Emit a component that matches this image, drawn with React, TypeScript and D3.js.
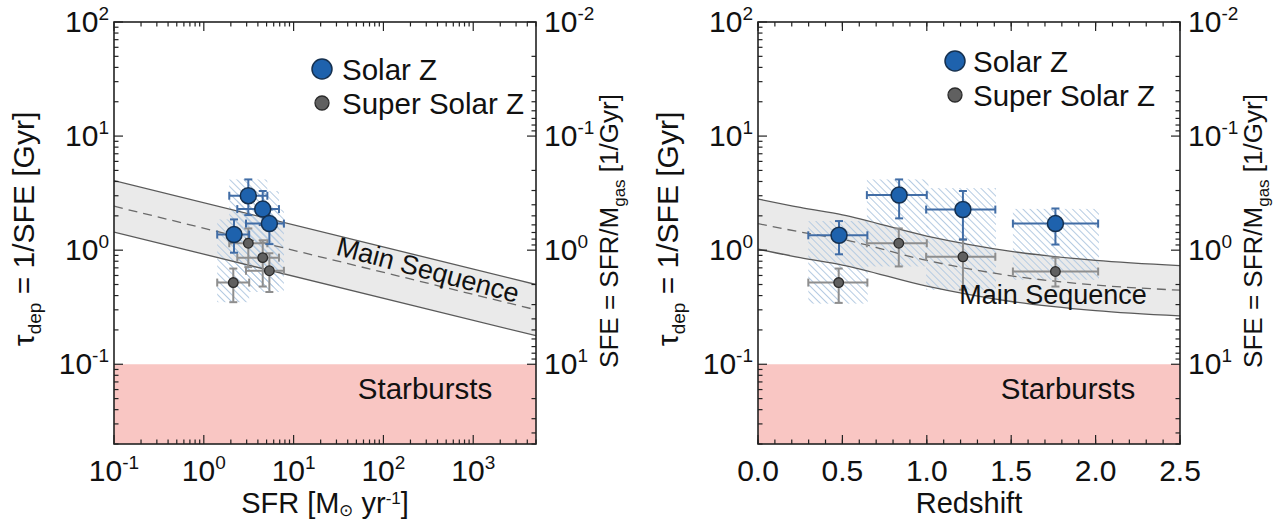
import React from 'react';
import * as d3 from 'd3';

// ---------------- DATA ----------------
// Left panel: depletion time vs SFR
const sfrSolar = [3.13, 4.53, 5.37, 2.17];
const sfrSolarLo = [1.92, 2.36, 2.95, 1.41];
const sfrSolarHi = [5.1, 6.87, 7.8, 3.2];
const tauSolarSfr = [3.0, 2.29, 1.71, 1.37];
const tauSolarSfrLo = [2.03, 1.66, 1.13, 0.95];
const tauSolarSfrHi = [4.17, 3.3, 2.27, 1.86];

const sfrSuper = [3.13, 4.53, 5.37, 2.13];
const sfrSuperLo = [1.92, 2.36, 2.95, 1.41];
const sfrSuperHi = [5.1, 6.87, 7.8, 3.2];
const tauSuperSfr = [1.15, 0.86, 0.66, 0.52];
const tauSuperSfrLo = [0.71, 0.48, 0.43, 0.35];
const tauSuperSfrHi = [1.55, 1.22, 0.94, 0.69];

const boxSfrLo = [1.92, 2.36, 2.95, 1.41];
const boxSfrHi = [5.1, 6.87, 7.8, 3.2];
const boxSfrTauLo = [0.71, 0.48, 0.43, 0.35];
const boxSfrTauHi = [4.17, 3.3, 2.27, 1.86];

// Main sequence band (left)
const msSfr = [0.1, 5000];
const msSfrUpper = [4.07, 0.5];
const msSfrMid = [2.43, 0.3];
const msSfrLower = [1.44, 0.178];

// Right panel: depletion time vs redshift
const zSolar = [0.48, 0.836, 1.214, 1.762];
const zSolarLo = [0.298, 0.645, 0.996, 1.51];
const zSolarHi = [0.648, 1.0, 1.406, 2.015];
const tauSolarZ = [1.35, 3.04, 2.27, 1.71];
const tauSolarZLo = [0.92, 1.9, 1.24, 1.12];
const tauSolarZHi = [1.8, 4.17, 3.3, 2.32];

const zSuper = [0.478, 0.834, 1.214, 1.762];
const zSuperLo = [0.298, 0.645, 0.996, 1.51];
const zSuperHi = [0.648, 1.0, 1.406, 2.015];
const tauSuperZ = [0.52, 1.15, 0.875, 0.65];
const tauSuperZLo = [0.345, 0.72, 0.45, 0.48];
const tauSuperZHi = [0.69, 1.55, 1.24, 0.86];

const boxZLo = [0.298, 0.645, 0.996, 1.51];
const boxZHi = [0.65, 1.01, 1.41, 2.02];
const boxZTauLo = [0.34, 0.72, 0.45, 0.55];
const boxZTauHi = [1.8, 4.17, 3.5, 2.3];

// Main sequence band (right)
const msZ = [0, 0.25, 0.5, 1.0, 1.5, 2.0, 2.5];
const msZUpper = [2.81, 2.37, 2.04, 1.33, 0.977, 0.813, 0.731];
const msZMid = [1.71, 1.445, 1.245, 0.813, 0.596, 0.495, 0.446];
const msZLower = [1.02, 0.86, 0.741, 0.484, 0.355, 0.295, 0.265];

const sfrTickExps = [-1, 0, 1, 2, 3];
const zTickLabels = ['0.0', '0.5', '1.0', '1.5', '2.0', '2.5'];
const tauTickExps = [-1, 0, 1, 2];
const sfeTickExps = [-2, -1, 0, 1];
const starburstTau = 0.1;

// ---------------- LAYOUT ----------------
const W = 1277;
const H = 519;
const TOP = 22;
const BOTTOM = 444;
const PW = 422;
const LX = 114;
const RX = 758;
const FONT = "'Liberation Sans', Arial, Helvetica, sans-serif";
const FS_TICK = 30;
const SUP_TICK = 19;
const FS_TITLE = 30;
const FS_RTITLE = 26;
const FS_XTITLE = 29;
const FS_LEG = 29.5;
const FS_MS = 27;
const FS_SB = 29.5;

const yScale = d3.scaleLog().domain([0.02, 100]).range([BOTTOM, TOP]);
const sfeScale = d3.scaleLog().domain([50, 0.01]).range([BOTTOM, TOP]);

const BLUE = '#1E62AD';
const BLUE_EDGE = '#15304F';
const BLUE_BAR = '#416DA6';
const GRAY = '#606060';
const GRAY_EDGE = '#2B2B2B';
const GRAY_BAR = '#8E8E8E';

function Sup({ base, exp, ...rest }: any) {
  return (
    <text {...rest}>
      {base}
      <tspan fontSize={SUP_TICK} dy={-12}>{exp}</tspan>
    </text>
  );
}

function ErrorBars({ xs, xLo, xHi, ys, yLo, yHi, xScale, color }: any) {
  const cap = 4;
  return (
    <g stroke={color} strokeWidth={2} fill="none">
      {xs.map((_: number, i: number) => {
        const cx = xScale(xs[i]);
        const cy = yScale(ys[i]);
        const x1 = xScale(xLo[i]);
        const x2 = xScale(xHi[i]);
        const y1 = yScale(yLo[i]);
        const y2 = yScale(yHi[i]);
        return (
          <g key={i}>
            <line x1={x1} x2={x2} y1={cy} y2={cy} />
            <line x1={x1} x2={x1} y1={cy - cap} y2={cy + cap} />
            <line x1={x2} x2={x2} y1={cy - cap} y2={cy + cap} />
            <line x1={cx} x2={cx} y1={y1} y2={y2} />
            <line x1={cx - cap} x2={cx + cap} y1={y1} y2={y1} />
            <line x1={cx - cap} x2={cx + cap} y1={y2} y2={y2} />
          </g>
        );
      })}
    </g>
  );
}

function Panel(props: any) {
  const {
    x0, xScale, xTicksMajor, xTicksMinor, xLabels, xTitle,
    solar, superS, boxes, ms, legend, msLabel, sbX, idp,
  } = props;
  const x1 = x0 + PW;
  const yTicks = yScale.ticks();
  const sfeTicks = sfeScale.ticks();
  const isMajor = (v: number) => Math.abs(Math.log10(v) - Math.round(Math.log10(v))) < 1e-6;

  const line = d3.line<[number, number]>().x(d => xScale(d[0])).y(d => yScale(d[1])).curve(d3.curveMonotoneX);
  const upperPts = ms.x.map((v: number, i: number) => [v, ms.upper[i]]);
  const lowerPts = ms.x.map((v: number, i: number) => [v, ms.lower[i]]);
  const midPts = ms.x.map((v: number, i: number) => [v, ms.mid[i]]);
  const area = d3.area<[number, number]>()
    .x(d => xScale(d[0]))
    .y0((d, i) => yScale(lowerPts[i][1]))
    .y1(d => yScale(d[1]))
    .curve(d3.curveMonotoneX);

  return (
    <g>
      <defs>
        <clipPath id={`clip${idp}`}>
          <rect x={x0} y={TOP} width={PW} height={BOTTOM - TOP} />
        </clipPath>
      </defs>
      <g clipPath={`url(#clip${idp})`}>
        <rect x={x0} y={yScale(starburstTau)} width={PW} height={BOTTOM - yScale(starburstTau)} fill="#F9C6C3" />
        <path d={area(upperPts) || ''} fill="#EAEAEA" />
        {boxes.lo.map((_: number, i: number) => (
          <rect key={i}
            x={xScale(boxes.lo[i])} width={xScale(boxes.hi[i]) - xScale(boxes.lo[i])}
            y={yScale(boxes.tHi[i])} height={yScale(boxes.tLo[i]) - yScale(boxes.tHi[i])}
            fill="url(#hatch)" />
        ))}
        <path d={line(upperPts) || ''} fill="none" stroke="#5A5A5A" strokeWidth={1.3} />
        <path d={line(lowerPts) || ''} fill="none" stroke="#5A5A5A" strokeWidth={1.3} />
        <path d={line(midPts) || ''} fill="none" stroke="#6A6A6A" strokeWidth={1.3} strokeDasharray="9,6" />
      </g>

      <ErrorBars xs={superS.x} xLo={superS.xLo} xHi={superS.xHi} ys={superS.t} yLo={superS.tLo} yHi={superS.tHi} xScale={xScale} color={GRAY_BAR} />
      <ErrorBars xs={solar.x} xLo={solar.xLo} xHi={solar.xHi} ys={solar.t} yLo={solar.tLo} yHi={solar.tHi} xScale={xScale} color={BLUE_BAR} />
      {superS.x.map((v: number, i: number) => (
        <circle key={i} cx={xScale(v)} cy={yScale(superS.t[i])} r={4.8} fill={GRAY} stroke={GRAY_EDGE} strokeWidth={1.3} />
      ))}
      {solar.x.map((v: number, i: number) => (
        <circle key={i} cx={xScale(v)} cy={yScale(solar.t[i])} r={8} fill={BLUE} stroke={BLUE_EDGE} strokeWidth={1.5} />
      ))}

      {/* frame */}
      <rect x={x0} y={TOP} width={PW} height={BOTTOM - TOP} fill="none" stroke="#222" strokeWidth={1.6} />

      {yTicks.map((v, i) => {
        const y = yScale(v);
        const len = isMajor(v) ? 9 : 4.5;
        return <line key={`l${i}`} x1={x0} x2={x0 + len} y1={y} y2={y} stroke="#222" strokeWidth={1.2} />;
      })}
      {sfeTicks.map((v, i) => {
        const y = sfeScale(v);
        const len = isMajor(v) ? 9 : 4.5;
        return <line key={`r${i}`} x1={x1} x2={x1 - len} y1={y} y2={y} stroke="#222" strokeWidth={1.2} />;
      })}
      {xTicksMinor.map((v: number, i: number) => {
        const x = xScale(v);
        return (
          <g key={`xm${i}`} stroke="#222" strokeWidth={1.2}>
            <line x1={x} x2={x} y1={BOTTOM} y2={BOTTOM - 4.5} />
            <line x1={x} x2={x} y1={TOP} y2={TOP + 4.5} />
          </g>
        );
      })}
      {xTicksMajor.map((v: number, i: number) => {
        const x = xScale(v);
        return (
          <g key={`xM${i}`} stroke="#222" strokeWidth={1.2}>
            <line x1={x} x2={x} y1={BOTTOM} y2={BOTTOM - 9} />
            <line x1={x} x2={x} y1={TOP} y2={TOP + 9} />
          </g>
        );
      })}

      <g fontFamily={FONT} fontSize={FS_TICK} fill="#111">
        {tauTickExps.map(e => (
          <Sup key={`tl${e}`} base="10" exp={`${e}`} x={x0 - 5} y={yScale(Math.pow(10, e)) + 10} textAnchor="end" />
        ))}
        {sfeTickExps.map(e => (
          <Sup key={`sl${e}`} base="10" exp={`${e}`} x={x1 + 8} y={sfeScale(Math.pow(10, e)) + 10} textAnchor="start" />
        ))}
        {xLabels.map((lab: any, i: number) => (
          lab.exp !== undefined
            ? <Sup key={`xl${i}`} base="10" exp={lab.exp} x={xScale(lab.v)} y={481} textAnchor="middle" />
            : <text key={`xl${i}`} x={xScale(lab.v)} y={481} textAnchor="middle">{lab.text}</text>
        ))}
      </g>

      <g fontFamily={FONT} fill="#111">
        {xTitle}
        <text fontSize={FS_TITLE} transform={`translate(${x0 - 80},${229}) rotate(-90)`} textAnchor="middle">
          τ<tspan fontSize={SUP_TICK} dy={7}>dep</tspan><tspan dy={-7}> = 1/SFE [Gyr]</tspan>
        </text>
        <text fontSize={FS_RTITLE} transform={`translate(${x1 + 82},${231}) rotate(-90)`} textAnchor="middle">
          SFE = SFR/M<tspan fontSize={17} dy={7}>gas</tspan><tspan dy={-7}> [1/Gyr]</tspan>
        </text>
      </g>

      <g fontFamily={FONT} fontSize={FS_LEG} fill="#111">
        <circle cx={legend.x} cy={legend.y} r={10} fill={BLUE} stroke={BLUE_EDGE} strokeWidth={1.5} />
        <text x={legend.x + legend.gap} y={legend.y + 10.5}>Solar Z</text>
        <circle cx={legend.x} cy={legend.y + 34} r={7} fill={GRAY} stroke={GRAY_EDGE} strokeWidth={1.3} />
        <text x={legend.x + legend.gap} y={legend.y + 44.5}>Super Solar Z</text>
      </g>

      <text fontFamily={FONT} fontSize={FS_MS} fill="#111" textAnchor="middle"
        transform={`translate(${msLabel.x},${msLabel.y}) rotate(${msLabel.rot})`} dy={9}>Main Sequence</text>
      <text fontFamily={FONT} fontSize={FS_SB} fill="#111" textAnchor="middle" x={sbX} y={399}>Starbursts</text>
    </g>
  );
}

export default function App() {
  const xSfr = d3.scaleLog().domain([0.1, 5000]).range([LX, LX + PW]);
  const xZ = d3.scaleLinear().domain([0, 2.5]).range([RX, RX + PW]);
  const sfrAll = xSfr.ticks();
  const isMaj = (v: number) => Math.abs(Math.log10(v) - Math.round(Math.log10(v))) < 1e-6;
  const zMinor = d3.range(0, 26).map(i => i / 10);
  const zMajor = d3.range(0, 6).map(i => i / 2);

  return (
    <svg width={W} height={H} viewBox={`0 0 ${W} ${H}`} style={{ display: 'block', position: 'absolute', left: 0, top: 0, background: '#fff' }}>
      <defs>
        <pattern id="hatch" patternUnits="userSpaceOnUse" width={5} height={5} patternTransform="rotate(-45)">
          <line x1={0} y1={0} x2={0} y2={5} stroke="#B5CBE2" strokeWidth={2} />
        </pattern>
      </defs>
      <rect x={0} y={0} width={W} height={H} fill="#fff" />
      <Panel
        idp="L"
        x0={LX}
        xScale={xSfr}
        xTicksMajor={sfrAll.filter(isMaj)}
        xTicksMinor={sfrAll.filter(v => !isMaj(v))}
        xLabels={sfrTickExps.map(e => ({ v: Math.pow(10, e), exp: `${e}` }))}
        xTitle={
          <text fontSize={FS_XTITLE} x={LX + PW / 2} y={513} textAnchor="middle">
            SFR [M<tspan fontSize={17} dy={3}>⊙</tspan><tspan dy={-3}> yr</tspan><tspan fontSize={17} dy={-9}>-1</tspan><tspan dy={9}>]</tspan>
          </text>
        }
        solar={{ x: sfrSolar, xLo: sfrSolarLo, xHi: sfrSolarHi, t: tauSolarSfr, tLo: tauSolarSfrLo, tHi: tauSolarSfrHi }}
        superS={{ x: sfrSuper, xLo: sfrSuperLo, xHi: sfrSuperHi, t: tauSuperSfr, tLo: tauSuperSfrLo, tHi: tauSuperSfrHi }}
        boxes={{ lo: boxSfrLo, hi: boxSfrHi, tLo: boxSfrTauLo, tHi: boxSfrTauHi }}
        ms={{ x: msSfr, upper: msSfrUpper, mid: msSfrMid, lower: msSfrLower }}
        legend={{ x: 322, y: 69, gap: 20 }}
        msLabel={{ x: 428, y: 270, rot: 15 }}
        sbX={425}
      />
      <Panel
        idp="R"
        x0={RX}
        xScale={xZ}
        xTicksMajor={zMajor}
        xTicksMinor={zMinor}
        xLabels={zTickLabels.map((t, i) => ({ v: zMajor[i], text: t }))}
        xTitle={<text fontSize={FS_XTITLE} x={RX + PW / 2} y={513} textAnchor="middle">Redshift</text>}
        solar={{ x: zSolar, xLo: zSolarLo, xHi: zSolarHi, t: tauSolarZ, tLo: tauSolarZLo, tHi: tauSolarZHi }}
        superS={{ x: zSuper, xLo: zSuperLo, xHi: zSuperHi, t: tauSuperZ, tLo: tauSuperZLo, tHi: tauSuperZHi }}
        boxes={{ lo: boxZLo, hi: boxZHi, tLo: boxZTauLo, tHi: boxZTauHi }}
        ms={{ x: msZ, upper: msZUpper, mid: msZMid, lower: msZLower }}
        legend={{ x: 955, y: 61, gap: 18 }}
        msLabel={{ x: 1053, y: 295, rot: 0 }}
        sbX={1068}
      />
    </svg>
  );
}
